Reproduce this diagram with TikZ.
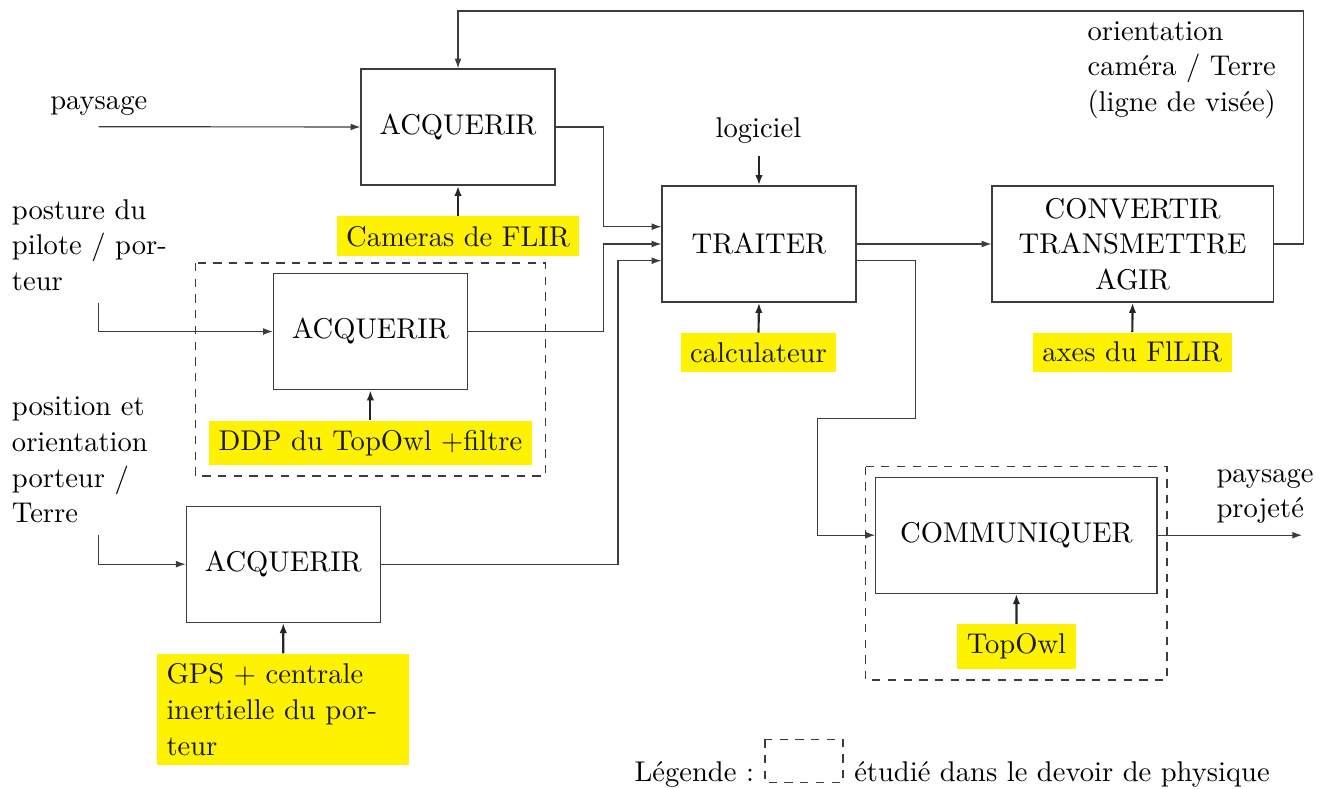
\documentclass[tikz,border=0pt]{standalone}
\usetikzlibrary{arrows.meta}
\definecolor{hl}{RGB}{255,242,0}
\definecolor{ln}{RGB}{60,60,60}
\begin{document}
\begin{tikzpicture}[x=0.35pt,y=-0.35pt,
  font=\fontsize{10}{12.5}\selectfont,
  bloc/.style={draw=ln,line width=0.45pt,minimum width=67.9pt,minimum height=40.6pt,inner sep=0pt,align=center},
  wbloc/.style={bloc,minimum width=98.4pt},
  hlbox/.style={fill=hl,text=black!90},
  txt/.style={anchor=base west,inner sep=0pt,align=left},
  flow/.style={draw=ln,line width=0.4pt,-{Latex[length=3.4pt,width=2.4pt]}},
  supp/.style={draw=black!85,line width=0.75pt,-{Latex[length=3.6pt,width=2.6pt]}},
  zone/.style={draw=ln,line width=0.45pt,dash pattern=on 2.9pt off 2.6pt}]
\useasboundingbox (0,0) rectangle (1323,789);

% dashed zones
\draw[zone] (195.3,263) rectangle (545.5,476);
\draw[zone] (865.5,466.7) rectangle (1167,680);

% blocks
\node[bloc] (A1) at (458,127) {ACQUERIR};
\node[bloc] (A2) at (370.4,331.5) {ACQUERIR};
\node[bloc] (A3) at (283.3,564.2) {ACQUERIR};
\node[bloc] (T) at (759,244) {TRAITER};
\node[wbloc] (C) at (1132.6,244) {CONVERTIR\\TRANSMETTRE\\AGIR};
\node[wbloc] (M) at (1016.4,535.2) {COMMUNIQUER};

% supports
\node[hlbox] (cam) at (458,236.3) {Cameras de FLIR};
\node[hlbox] (ddp) at (370.4,443) {DDP du TopOwl +filtre};
\node[hlbox] (calc) at (758.5,352.7) {calculateur};
\node[hlbox] (axes) at (1132.3,352.4) {axes du FlLIR};
\node[hlbox] (top) at (1016.5,646.7) {TopOwl};
\node[hlbox,text width=81.7pt,align=left] (gps) at (283.25,709.5) {GPS + centrale\\inertielle du por-\\teur};

% texts (base anchor = last line)
\node[txt] (tpay) at (49.7,110) {paysage};
\node[txt] (tpos) at (11.4,290.7) {posture du\\pilote / por-\\teur};
\node[txt] (tposi) at (11.4,523) {position et\\orientation\\porteur /\\Terre};
\node[txt] (tlog) at (715,138) {logiciel};
\node[txt] (tori) at (1087,111.7) {orientation\\cam\'era / Terre\\(ligne de vis\'ee)};
\node[txt] (tproj) at (1216,518) {paysage\\projet\'e};

% free ends
\coordinate (ipay) at (98.5,126.7);
\coordinate (ipos) at (98.5,302.7);
\coordinate (iposi) at (98.5,535);
\coordinate (ilog) at (759,156);
\coordinate (oproj) at (1302,535.2);
\coordinate (t1) at ([yshift=6.06pt]T.west);
\coordinate (t3) at ([yshift=-5.85pt]T.west);
\coordinate (t4) at ([yshift=-5.85pt]T.east);

% flows
\draw[flow] (ipay) -- (A1.west);
\draw[flow] (ipos) |- (A2.west);
\draw[flow] (iposi) |- (A3.west);
\draw[flow] (A1.east) -- ++(48,0) |- (t1);
\draw[flow] (A2.east) -- ++(135.8,0) |- (T.west);
\draw[flow] (A3.east) -- ++(237,0) |- (t3);
\draw[flow] (T.east) -- (C.west);
\draw[flow] (t4) -- ++(58.5,0) -- ++(0,157.6) -- ++(-97.6,0) |- (M.west);
\draw[flow] (C.east) -- ++(30,0) -- ++(0,-233) -| (A1.north);
\draw[flow] (M.east) -- (oproj);
\draw[supp] (ilog) -- (T.north);

% support arrows
\draw[supp] (cam.north) -- (A1.south);
\draw[supp] (ddp.north) -- (A2.south);
\draw[supp] (calc.north) -- (T.south);
\draw[supp] (axes.north) -- (C.south);
\draw[supp] (top.north) -- (M.south);
\draw[supp] (gps.north) -- (A3.south);

% legend
\node[txt] (leg) at (634,781.5) {L\'egende :};
\draw[zone] (764.9,739.3) rectangle (843,782.7);
\node[txt] (legt) at (853.7,781.5) {\'etudi\'e dans le devoir de physique};
\end{tikzpicture}
\end{document}
